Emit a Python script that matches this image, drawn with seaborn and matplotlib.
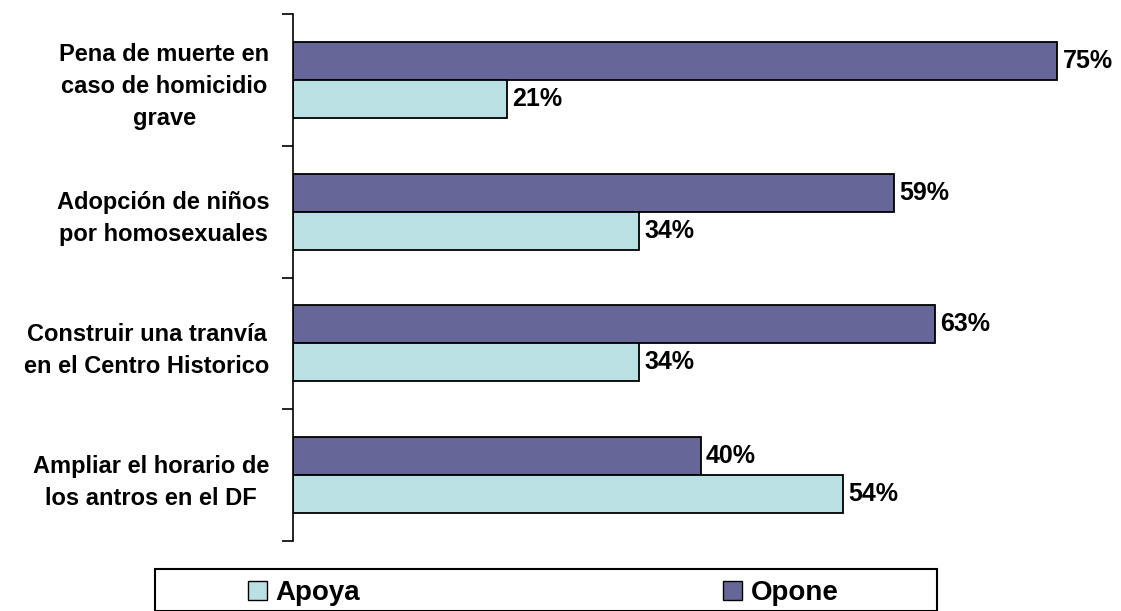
import matplotlib
matplotlib.use("Agg")
import matplotlib.pyplot as plt
import seaborn as sns
import pandas as pd
from matplotlib.patches import Patch, Rectangle
from matplotlib.ticker import FixedLocator, NullFormatter

categories = ["Pena de muerte en\ncaso de homicidio\ngrave",
              "Adopción de niños\npor homosexuales",
              "Construir una tranvía\nen el Centro Historico",
              "Ampliar el horario de\nlos antros en el DF"]
opone = [75, 59, 63, 40]
apoya = [21, 34, 34, 54]
series = ["Opone", "Apoya"]
colors = {"Opone": "#666699", "Apoya": "#BBE0E3"}

df = pd.DataFrame({
    "cat": categories * 2,
    "serie": ["Opone"] * 4 + ["Apoya"] * 4,
    "val": opone + apoya,
})

sns.set_theme(style="white")
plt.rcParams['font.family'] = ['Liberation Sans', 'DejaVu Sans']
plt.rcParams['text.color'] = 'black'
plt.rcParams['ytick.color'] = 'black'
plt.rcParams['ytick.labelcolor'] = 'black'

W, H = 1121, 611
fig = plt.figure(figsize=(W / 100, H / 100), dpi=100)
ax = fig.add_axes([293 / W, 1 - 541 / H, 815 / W, 527 / H])

sns.barplot(data=df, y="cat", x="val", hue="serie", hue_order=series,
            palette=colors, orient="h", width=0.576, edgecolor="black",
            linewidth=1.3, ax=ax, legend=False, saturation=1)

ax.set_xlim(0, 80)
ax.set_ylim(3.5, -0.5)
ax.set_xlabel("")
ax.set_ylabel("")
ax.set_xticks([])

for cont in ax.containers:
    ax.bar_label(cont, labels=[f"{int(v)}%" for v in cont.datavalues],
                 padding=4, fontsize=18, fontweight="bold", color="black")

ax.tick_params(axis="y", which="major", length=0, pad=17)
for lbl in ax.get_yticklabels():
    lbl.set_fontsize(17)
    lbl.set_fontweight("bold")
    lbl.set_color("black")
    lbl.set_ha("right")
    lbl.set_multialignment("center")
    lbl.set_linespacing(1.5)
ax.yaxis.set_minor_locator(FixedLocator([-0.5, 0.5, 1.5, 2.5, 3.5]))
ax.yaxis.set_minor_formatter(NullFormatter())
ax.tick_params(axis="y", which="minor", length=8, width=1.2, color="black", left=True)

for s in ["top", "right", "bottom"]:
    ax.spines[s].set_visible(False)
ax.spines["left"].set_color("black")
ax.spines["left"].set_linewidth(1.2)

# legend frame
fig.patches.append(Rectangle((155 / W, 0.0), (937 - 155) / W, 42 / H,
                             transform=fig.transFigure, facecolor="white",
                             edgecolor="black", linewidth=1.5, zorder=0))
handles = [Patch(facecolor=colors["Apoya"], edgecolor="black", label="Apoya"),
           Patch(facecolor=colors["Opone"], edgecolor="black", label="Opone")]
leg = fig.legend(handles=handles, loc="center",
                 bbox_to_anchor=(543 / W, 18 / H),
                 ncol=2, frameon=False,
                 prop={"weight": "bold", "size": 20}, handlelength=0.7,
                 handleheight=0.7, handletextpad=0.3, columnspacing=13.05,
                 borderaxespad=0, borderpad=0)
for t in leg.get_texts():
    t.set_color("black")

fig.savefig("out.png", dpi=100)
